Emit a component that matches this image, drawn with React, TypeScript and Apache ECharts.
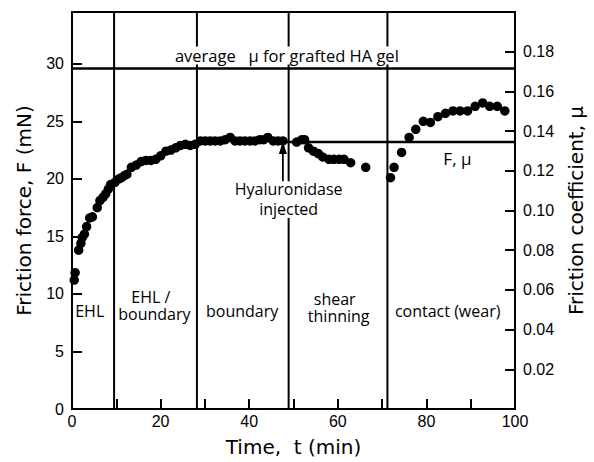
import React, { useEffect, useRef } from "react";
import * as echarts from "echarts";

// Measured data: time (min) and friction force F (mN)
const timeMin = [
  0.5, 0.7, 1.5, 2.0, 2.3, 2.8, 3.3, 4.0, 4.6, 5.7, 6.3, 7.0, 7.6, 8.2, 8.7, 9.7,
  10.6, 11.2, 11.9, 12.4, 13.4, 14.5, 15.6, 16.7, 17.8, 18.9, 20.0, 21.2, 22.3,
  23.4, 24.5, 25.6, 26.7, 27.8, 29.0, 30.1, 31.2, 32.3, 33.5, 34.6, 35.7, 36.8,
  37.9, 39.0, 40.2, 41.3, 42.4, 43.3, 44.2, 45.4, 46.5, 47.6, 50.7, 51.9, 52.5,
  53.4, 54.5, 55.6, 56.6, 58.0, 59.1, 60.3, 61.4, 62.9, 66.3, 71.9, 72.7, 74.4,
  76.1, 77.6, 79.3, 80.9, 82.6, 84.3, 86.0, 87.6, 89.3, 91.0, 92.7, 94.3, 96.0,
  97.7,
];
const forceMN = [
  11.2, 11.85, 13.8, 14.4, 14.9, 15.2, 15.85, 16.6, 16.7, 17.5, 18.1, 18.4, 18.7,
  19.1, 19.5, 19.7, 20.0, 20.1, 20.3, 20.4, 21.0, 21.2, 21.5, 21.6, 21.6, 21.7,
  22.0, 22.4, 22.5, 22.7, 22.9, 23.0, 22.9, 23.0, 23.3, 23.3, 23.3, 23.3, 23.3,
  23.4, 23.6, 23.3, 23.3, 23.3, 23.3, 23.3, 23.4, 23.4, 23.6, 23.3, 23.3, 23.3,
  23.2, 23.4, 23.4, 22.7, 22.4, 22.2, 21.9, 21.7, 21.7, 21.7, 21.7, 21.4, 21.0,
  20.1, 21.0, 22.3, 23.6, 24.3, 25.0, 24.9, 25.4, 25.7, 25.9, 25.9, 25.9, 26.3,
  26.6, 26.3, 26.3, 25.9,
];

// Regime boundaries (min)
const phaseBoundaries = [9.5, 28.2, 71.2];
const injectionTime = 48.9;
const injectionGap = [16.6, 19.4]; // F range left open for the label
const avgGelForce = 29.6; // average mu for grafted HA gel, in F units
const plateauForce = 23.2;
const plateauStart = 47.5;
const arrowTime = 47.6;
const arrowRange = [19.4, 22.5];

const xTicks = { min: 0, max: 100, interval: 10 };
const fAxis = { min: 0, max: 34.5, interval: 5 };
const muAxis = { min: 0, max: 0.2, interval: 0.02 };

const regionLabels = [
  { text: "EHL", t: 4.0, f: 8.5 },
  { text: "EHL /", t: 17.8, f: 9.75 },
  { text: "boundary", t: 18.6, f: 8.25 },
  { text: "boundary", t: 38.4, f: 8.5 },
  { text: "shear", t: 59.3, f: 9.6 },
  { text: "thinning", t: 60.2, f: 8.05 },
  { text: "contact (wear)", t: 84.8, f: 8.5 },
];

const BLACK = "#000";
const TXT_FONT = "'Open Sans', 'Noto Sans', sans-serif";
const TITLE_FONT = "'DejaVu Sans', 'Open Sans', sans-serif";
const TICK_FONT = "'Liberation Sans', Arial, sans-serif";

export default function App() {
  const ref = useRef<HTMLDivElement>(null);

  useEffect(() => {
    if (!ref.current) return;
    const chart = echarts.init(ref.current, undefined, { renderer: "svg" });

    const lineStyle = { color: BLACK, width: 2 };
    const seg = (data: number[][], width = 2) => ({
      type: "line",
      data,
      symbol: "none",
      silent: true,
      lineStyle: { color: BLACK, width },
      z: 2,
      animation: false,
    });

    const series: any[] = [];
    phaseBoundaries.forEach((t) =>
      series.push(seg([[t, fAxis.min], [t, fAxis.max]]))
    );
    series.push(seg([[injectionTime, fAxis.min], [injectionTime, injectionGap[0]]]));
    series.push(seg([[injectionTime, injectionGap[1]], [injectionTime, fAxis.max]]));
    series.push(seg([[xTicks.min, avgGelForce], [xTicks.max, avgGelForce]], 2.5));
    series.push(seg([[plateauStart, plateauForce], [xTicks.max, plateauForce]], 2.5));
    series.push(seg([[arrowTime, arrowRange[0]], [arrowTime, arrowRange[1]]], 1.8));

    series.push({
      type: "scatter",
      data: timeMin.map((t, i) => [t, forceMN[i]]),
      symbol: "circle",
      symbolSize: 9.5,
      itemStyle: { color: BLACK, opacity: 1 },
      z: 5,
      animation: false,
    });

    const titleStyle = { fontFamily: TITLE_FONT, fontSize: 20, color: BLACK };

    chart.setOption({
      animation: false,
      grid: {
        left: 72,
        right: 74.5,
        top: 12,
        bottom: 48,
        show: true,
        borderColor: BLACK,
        borderWidth: 2,
        backgroundColor: "transparent",
      },
      xAxis: {
        type: "value",
        min: xTicks.min,
        max: xTicks.max,
        interval: xTicks.interval,
        name: "Time,  t (min)",
        nameLocation: "middle",
        nameGap: 28,
        nameTextStyle: titleStyle,
        axisLine: { lineStyle },
        axisTick: { inside: true, length: 10, lineStyle },
        splitLine: { show: false },
        axisLabel: {
          color: BLACK,
          fontFamily: TICK_FONT,
          fontSize: 16,
          margin: 4,
          formatter: (v: number) => (Math.round(v) % 20 === 0 ? String(Math.round(v)) : ""),
        },
      },
      yAxis: [
        {
          type: "value",
          min: fAxis.min,
          max: fAxis.max,
          interval: fAxis.interval,
          name: "Friction force, F (mN)",
          nameLocation: "middle",
          nameGap: 38,
          nameTextStyle: titleStyle,
          axisLine: { show: true, lineStyle },
          axisTick: { inside: true, length: 10, lineStyle },
          splitLine: { show: false },
          axisLabel: {
            color: BLACK,
            fontFamily: TICK_FONT,
            fontSize: 16,
            margin: 8,
            showMaxLabel: false,
            formatter: (v: number) => (v > 30.5 ? "" : String(Math.round(v))),
          },
        },
        {
          type: "value",
          position: "right",
          min: muAxis.min,
          max: muAxis.max,
          interval: muAxis.interval,
          name: "Friction coefficient, μ",
          nameLocation: "middle",
          nameGap: 51,
          nameRotate: 90,
          nameTextStyle: titleStyle,
          axisLine: { show: true, lineStyle },
          axisTick: { inside: true, length: 10, lineStyle },
          splitLine: { show: false },
          axisLabel: {
            color: BLACK,
            fontFamily: TICK_FONT,
            fontSize: 16,
            margin: 8,
            formatter: (v: number) =>
              v < 0.01 || v > 0.19 ? "" : v.toFixed(2),
          },
        },
      ],
      series,
    });

    // annotations positioned through the axes
    const px = (t: number, f: number) =>
      chart.convertToPixel({ xAxisIndex: 0, yAxisIndex: 0 }, [t, f]) as number[];

    const textEl = (text: string, p: number[], extra: any = {}) => ({
      type: "text",
      x: p[0],
      y: p[1],
      z: 50,
      style: {
        text,
        fill: BLACK,
        font: `16px ${TXT_FONT}`,
        lineHeight: 16,
        align: "center",
        verticalAlign: "middle",
        ...extra,
      },
    });

    const avgP = px(48.5, avgGelForce);
    const hyaP = px(injectionTime, 19.1);
    const injP = px(injectionTime, 17.4);
    const fmuP = px(87.0, 21.8);
    const aTop = px(arrowTime, arrowRange[1]);
    const headTip = px(arrowTime, 22.9);

    const graphic: any[] = [
      textEl("average   μ for grafted HA gel", [avgP[0], avgP[1] - 13], {
        backgroundColor: "#fff",
        padding: [0, 2],
        font: `16.5px ${TXT_FONT}`,
        lineHeight: 18,
      }),
      textEl("Hyaluronidase", hyaP, { backgroundColor: "#fff" }),
      textEl("injected", injP, { backgroundColor: "#fff" }),
      textEl("F, μ", fmuP, { font: `17px ${TXT_FONT}`, lineHeight: 18 }),
      {
        type: "polygon",
        z: 50,
        shape: {
          points: [
            [headTip[0], headTip[1] - 4],
            [aTop[0] - 4, aTop[1] + 4],
            [aTop[0] + 4, aTop[1] + 4],
          ],
        },
        style: { fill: BLACK },
      },
    ];
    regionLabels.forEach((r) => graphic.push(textEl(r.text, px(r.t, r.f))));

    chart.setOption({ graphic });

    return () => chart.dispose();
  }, []);

  return (
    <div
      ref={ref}
      style={{ position: "absolute", left: 0, top: 0, width: 594, height: 462 }}
    />
  );
}
